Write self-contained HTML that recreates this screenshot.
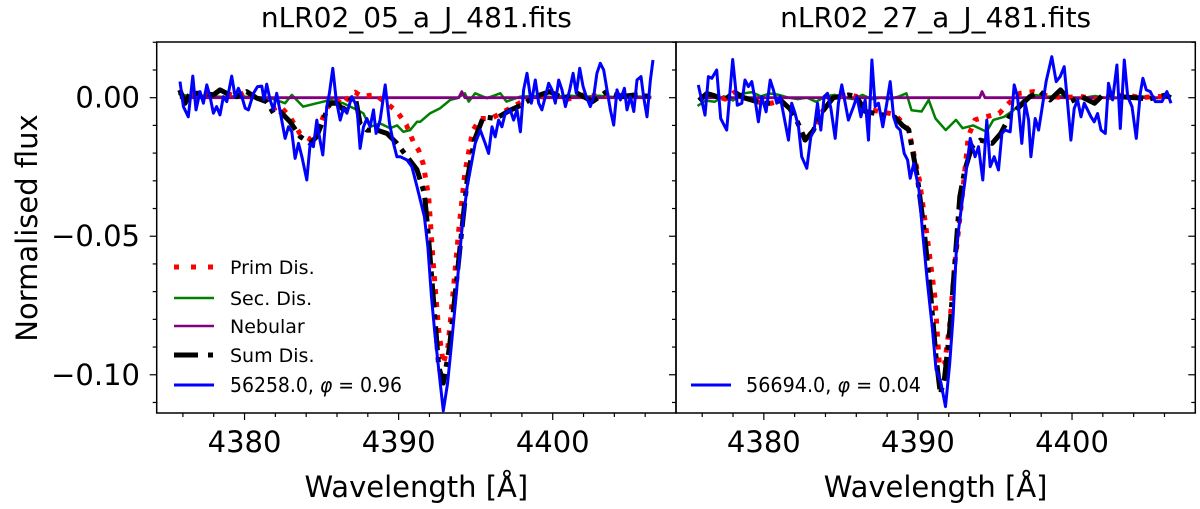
<!DOCTYPE html>
<html><head><meta charset="utf-8">
<style>
html,body{margin:0;padding:0;background:#fff;}
svg{display:block;}
text{font-family:"DejaVu Sans","Liberation Sans",sans-serif;fill:#000;}
</style></head>
<body>
<svg id="fig" width="1200" height="509" viewBox="0 0 1200 509" xmlns="http://www.w3.org/2000/svg"></svg>
<script>
// ---- Data ----
const xTicks = [4380, 4390, 4400];
const yTicks = [0, -0.05, -0.10];
const yTickLabels = ["0.00", "\u22120.05", "\u22120.10"];
const panelTitles = ["nLR02_05_a_J_481.fits", "nLR02_27_a_J_481.fits"];
const obsLabels = ["56258.0, ", "56694.0, "];
const obsPhases = ["0.96", "0.04"];

// Left panel (values in units of 1e-3)
const L_obsW = [4375.81,4376.03,4376.35,4376.64,4376.85,4377.11,4377.33,4377.55,4377.76,4377.98,4378.19,4378.41,4378.63,4378.85,4379.17,4379.39,4379.60,4379.82,4380.04,4380.25,4380.58,4380.84,4381.12,4381.27,4381.44,4381.66,4381.88,4382.09,4382.31,4382.63,4382.85,4383.07,4383.28,4383.50,4383.72,4384.04,4384.26,4384.47,4384.69,4384.86,4385.08,4385.34,4385.51,4385.73,4385.95,4386.21,4386.42,4386.64,4386.96,4387.29,4387.50,4387.72,4387.94,4388.15,4388.37,4388.54,4388.80,4389.13,4389.41,4389.67,4389.89,4390.10,4390.54,4390.86,4391.19,4391.67,4391.90,4392.13,4392.37,4392.60,4392.90,4393.18,4393.41,4393.76,4394.10,4394.45,4394.97,4395.30,4395.62,4395.84,4396.06,4396.27,4396.49,4396.70,4396.92,4397.25,4397.46,4397.68,4397.90,4398.11,4398.33,4398.61,4398.87,4399.09,4399.30,4399.52,4399.74,4399.95,4400.17,4400.39,4400.60,4400.82,4401.10,4401.32,4401.53,4401.75,4401.97,4402.18,4402.44,4402.66,4402.87,4403.09,4403.31,4403.52,4403.74,4403.96,4404.17,4404.39,4404.65,4404.82,4405.04,4405.26,4405.47,4405.73,4405.90,4406.12,4406.34,4406.51];
const L_obsF = [5.8,-3.2,-6.9,7.8,-4.4,2.2,-2.0,4.6,0.4,-5.6,-3.2,-6.2,0.4,-1.4,7.8,0.4,3.4,0.4,-3.8,-4.4,1.6,4.0,4.2,-0.8,4.9,-0.8,-4.4,1.6,-5.0,-14.7,-10.5,-12.3,-21.9,-16.5,-21.3,-29.7,-16.5,-17.7,-8.1,-14.1,-20.7,-3.2,1.6,10.6,-0.8,-8.1,-3.8,-5.6,0.4,-3.2,-18.3,-10.5,-7.5,-10.5,-4.4,-12.9,-8.1,4.6,-9.3,-16.5,-21.3,-21.3,-22.5,-24.9,-32.1,-43,-54,-72,-86,-98,-113,-103,-90,-69.5,-48,-32,-16.5,-11.7,-16.5,-20.1,-10.5,-14.1,-8.1,-10.5,-5.6,-4.4,-8.1,-4.4,-12.3,2.8,8.8,-2.0,6.4,-2.0,-4.4,0.4,5.2,2.8,-2.0,6.4,2.8,-3.2,2.8,8.8,1.6,10.6,4.0,0.4,-3.2,0.4,8.8,12.4,10.0,2.8,-4.4,-9.9,2.8,-0.8,3.4,-4.4,0.4,-5.0,6.4,7.6,0.4,-6.9,6.4,13.6];
const L_sumW = [4375.8,4376.14,4376.46,4376.9,4377.33,4377.98,4378.41,4378.85,4379.5,4380.14,4380.8,4381.44,4381.88,4382.31,4382.96,4383.6,4384.26,4384.69,4385.1,4385.56,4386.0,4386.42,4386.86,4387.18,4387.5,4387.94,4388.59,4389.24,4389.89,4390.54,4391.19,4391.67,4391.9,4392.25,4392.6,4392.9,4393.3,4393.76,4394.1,4394.45,4394.92,4395.5,4396.3,4397.24,4397.94,4398.86,4399.8,4400.7,4401.6,4402.58,4403.5,4404.43,4405.36,4406.4];
const L_sumF = [2.8,-2,1.6,1.6,1.6,1,2.8,1.6,0.4,2.2,-0.2,-1.4,-5.6,-5,-8.7,-14,-16.5,-14,-8,-2,-2,-4.4,-0.8,0.4,-9.3,-11.7,-11.7,-12.9,-16.5,-21.3,-26,-34.6,-47.8,-72,-97,-103,-90,-66,-47.8,-29.7,-15.3,-6.9,-7.5,-4.5,-2.7,0.4,2.2,-0.2,1.6,-1.4,2.2,0.4,1,0.4];
const L_primW = [4375.8,4376.14,4376.46,4376.9,4377.33,4377.98,4378.41,4378.85,4379.5,4380.14,4380.8,4381.44,4381.88,4382.31,4382.96,4383.6,4384.26,4384.69,4385.1,4385.56,4386.0,4386.42,4386.86,4387.18,4387.6,4388.5,4389.2,4389.9,4390.5,4391.0,4391.3,4391.6,4391.95,4392.25,4392.6,4392.9,4393.2,4393.5,4393.9,4394.3,4394.8,4395.3,4396.0,4397.0,4398.0,4399.0,4400.0,4401.0,4402.0,4403.0,4404.0,4405.0,4406.4];
const L_primF = [2.8,-2,1.6,1.6,1.6,1,2.8,1.6,0.4,2.2,-0.2,-1.4,-4,-3,-7,-13,-15,-13,-7,-1.5,-1,-2.5,1,2,0.5,1,-2,-5,-9.8,-16.5,-19,-24,-36,-60,-84,-96,-90,-72,-48,-27,-12,-7.5,-7.5,-4.5,-1.5,0,1,-0.5,1,0.5,1,0.5,0.5];
const L_secW = [4375.7,4376.5,4377.5,4378.5,4379.5,4380.5,4381.6,4382.63,4383.07,4383.8,4384.7,4385.6,4386.4,4387.3,4387.7,4388.15,4388.8,4389.45,4389.9,4390.3,4390.75,4391.19,4391.4,4392.05,4392.7,4393.35,4393.8,4394.3,4394.55,4394.97,4395.73,4396.6,4397.0,4397.9,4399,4400,4401,4402,4403,4404,4405,4406.4];
const L_secF = [1.4,0.5,0.8,0.3,0.5,0.2,0,-2,1,-3.2,-2,-0.8,-2,-4.4,-5.6,-10.5,-9.3,-11,-10,-12.3,-11.7,-8.7,-8.7,-5.6,-3.8,-0.8,-0.2,1.6,-1.4,1.6,-0.2,1.6,-1.4,0.4,0.6,0.2,0.8,0.3,0.7,0.2,0.5,0.3];
const L_nebW = [4375.8,4393.9,4394.1,4394.3,4406.4];
const L_nebF = [0,0,2.2,0,0];

// Right panel
const R_obsW = [4375.75,4376.18,4376.40,4376.62,4376.94,4377.20,4377.59,4377.98,4378.28,4378.57,4378.78,4379.00,4379.22,4379.43,4379.65,4379.86,4380.15,4380.41,4380.62,4380.84,4381.06,4381.27,4381.60,4381.81,4382.03,4382.25,4382.46,4382.79,4383.05,4383.26,4383.48,4383.70,4383.91,4384.13,4384.35,4384.63,4384.84,4385.06,4385.28,4385.49,4385.82,4386.04,4386.30,4386.58,4386.79,4387.01,4387.23,4387.44,4387.72,4387.98,4388.20,4388.42,4388.63,4388.85,4389.11,4389.33,4389.50,4389.73,4390.07,4390.29,4390.62,4390.95,4391.17,4391.50,4391.79,4392.06,4392.28,4392.50,4392.83,4393.06,4393.39,4393.71,4393.93,4394.21,4394.47,4394.69,4394.95,4395.23,4395.45,4395.66,4395.99,4396.25,4396.46,4396.74,4396.96,4397.18,4397.33,4397.61,4397.83,4398.04,4398.32,4398.69,4398.97,4399.23,4399.49,4399.71,4399.93,4400.14,4400.36,4400.58,4400.79,4401.01,4401.23,4401.44,4401.66,4401.88,4402.16,4402.37,4402.63,4402.91,4403.13,4403.39,4403.61,4403.89,4404.17,4404.43,4404.60,4404.82,4405.08,4405.40,4405.84,4406.16,4406.42];
const R_obsF = [4.6,-6.3,7.6,7.0,10.0,-7.5,-11.7,13.8,-2.7,-2.0,6.4,4.0,5.8,-0.8,-8.7,0.4,-5.1,6.4,2.8,-2.0,0.4,-5.7,-15.3,-2.0,-5.7,-10.5,-21.3,-25.5,-14.1,-11.7,-2.0,-11.7,0.4,1.6,-3.9,-14.7,-2.0,4.6,-2.0,-8.1,-3.2,0.4,-6.9,-0.8,-15.3,13.6,-3.2,-2.0,-10.5,-2.0,5.8,-6.9,-10.5,-11.7,-20.1,-22.5,-29.1,-23.7,-33.3,-47.8,-67,-84,-98,-103,-111.5,-96,-79,-53.8,-39.3,-29.7,-14.7,-21.3,-17.7,-29.7,-8.1,-24.9,-21.3,-26.1,-12.9,-11.7,-12.3,4.6,0.4,-16.5,-2.0,-8.1,-21.3,-7.5,-11.7,-4.4,5.8,14.8,5.8,7.6,11.2,-2.0,-15.3,-3.9,-0.8,-6.9,-2.0,-4.4,-6.9,-8.7,-5.7,-11.7,-12.9,5.2,-0.8,11.8,-11.1,13.6,0.4,-3.2,-14.7,1.6,7.0,2.8,2.2,-1.4,-1.4,2.2,-2.0];
const R_sumW = [4375.8,4376.3,4376.9,4377.5,4378.1,4378.7,4379.3,4379.9,4380.5,4381.1,4381.7,4382.2,4382.68,4383.2,4383.8,4384.5,4385.5,4386.0,4386.6,4387.5,4388.5,4389.0,4389.4,4389.96,4390.4,4390.84,4391.17,4391.46,4391.73,4392.06,4392.39,4392.72,4393.05,4393.5,4394.05,4394.82,4395.38,4395.93,4396.6,4397.26,4397.92,4398.58,4399.25,4399.9,4400.58,4401.46,4402.12,4402.8,4404.1,4404.99,4406.1,4406.4];
const R_sumF = [-1,1.5,0.5,-0.5,2,0,-1,-2,-2,-1,-4,-9,-15.3,-12,-5,0,1,0.5,-5,-6,-7,-10,-11.6,-28.5,-47.8,-72,-93.5,-107,-101,-84,-60,-35.7,-26,-17.7,-15.3,-16.5,-12.9,-6.9,-3.2,0.4,2.2,-0.8,2.8,-1.4,0.4,-2.0,1.6,0.5,0,-0.5,1.0,0];
const R_primW = [4375.8,4376.3,4376.9,4377.5,4378.1,4378.7,4379.3,4379.9,4380.5,4381.1,4381.7,4382.2,4382.68,4383.2,4383.8,4384.5,4385.5,4386.0,4386.6,4387.5,4388.5,4389.0,4389.4,4390.1,4390.55,4391.1,4391.4,4391.73,4392.06,4392.39,4392.83,4393.27,4393.7,4394.4,4395.27,4395.9,4396.6,4397.5,4398.5,4399.5,4400.5,4401.5,4402.5,4403.5,4404.5,4405.5,4406.4];
const R_primF = [-1,1.5,0.5,-0.5,2,0,-1,-2,-2,-1,-4,-9,-15,-12,-5,0,1,0.5,-4,-5,-6,-9,-11.6,-30,-48,-72,-97,-96,-82,-60,-38,-14,-8,-6.9,-5.7,-2.0,1.6,2.2,0.5,0,0.5,-0.5,0.5,1,0,0.5,0];
const R_secW = [4375.7,4376.2,4376.8,4377.4,4378.0,4378.6,4379.2,4379.8,4380.4,4381.0,4381.6,4382.2,4382.8,4383.4,4384.0,4384.6,4385.2,4385.8,4386.4,4387.0,4387.6,4388.2,4388.8,4389.25,4389.58,4390.24,4390.7,4391.14,4391.8,4392.47,4392.9,4393.58,4394.45,4394.9,4395.6,4396.2,4396.87,4397.5,4398.4,4399.5,4400.5,4401.5,4402.5,4403.5,4404.5,4405.5,4406.4];
const R_secF = [-3,-1,-1.5,0.5,-1,1.5,2,0.5,1.5,1,0,-0.5,0,-1.5,0.5,1,0,-0.5,1,-0.5,0,-0.5,0.5,1.6,-4.5,-5,-0.8,-7.5,-11.7,-8,-11,-10,-12.3,-8,-6.9,-4.5,-0.8,1,0.4,0.5,-0.3,0.6,-0.4,0.3,0.5,-0.2,0.2];
const R_nebW = [4375.8,4394.0,4394.16,4394.35,4406.4];
const R_nebF = [0,0,2.2,0,0];

// ---- Layout ----
const NS = "http://www.w3.org/2000/svg";
const svg = document.getElementById("fig");
const X0 = 4374.3, X1 = 4408.0, Y0 = -0.1138, Y1 = 0.0201;
const panels = [{l:156.7, r:676}, {l:676, r:1195.3}];
const axTop = 42, axBot = 413;
function mk(tag, attrs, parent){const e=document.createElementNS(NS,tag);for(const k in attrs)e.setAttribute(k,attrs[k]);(parent||svg).appendChild(e);return e;}
function sx(p, w){return p.l + (w - X0)/(X1 - X0)*(p.r - p.l);}
function sy(v){return axTop + (Y1 - v)/(Y1 - Y0)*(axBot - axTop);}

const series = [
 [
  {w:L_secW,f:L_secF,color:"#008000",width:2.5,dash:null,name:"sec-dis-line-left"},
  {w:L_nebW,f:L_nebF,color:"#800080",width:2.8,dash:null,name:"nebular-line-left"},
  {w:L_primW,f:L_primF,color:"#ff0000",width:5,dash:"5,8",name:"prim-dis-line-left"},
  {w:L_sumW,f:L_sumF,color:"#000000",width:5,dash:"24,7,5,7",name:"sum-dis-line-left"},
  {w:L_obsW,f:L_obsF,color:"#0000ff",width:3,dash:null,name:"observed-spectrum-left"}
 ],
 [
  {w:R_secW,f:R_secF,color:"#008000",width:2.5,dash:null,name:"sec-dis-line-right"},
  {w:R_nebW,f:R_nebF,color:"#800080",width:2.8,dash:null,name:"nebular-line-right"},
  {w:R_primW,f:R_primF,color:"#ff0000",width:5,dash:"5,8",name:"prim-dis-line-right"},
  {w:R_sumW,f:R_sumF,color:"#000000",width:5,dash:"24,7,5,7",name:"sum-dis-line-right"},
  {w:R_obsW,f:R_obsF,color:"#0000ff",width:3,dash:null,name:"observed-spectrum-right"}
 ]
];

panels.forEach((p, pi) => {
  const g = mk("g", {});
  
  
  const cid = "clip"+pi;
  const cp = mk("clipPath", {id:cid}, g);
  mk("rect", {x:p.l, y:axTop, width:p.r-p.l, height:axBot-axTop}, cp);
  const lg = mk("g", {"clip-path":"url(#"+cid+")"}, g);
  series[pi].forEach(s => {
    const d = s.w.map((w,i)=>(i?"L":"M")+sx(p,w).toFixed(1)+","+sy(s.f[i]/1000).toFixed(1)).join("");
    const a = {d:d, fill:"none", stroke:s.color, "stroke-width":s.width, "stroke-linejoin":"round"};
    if (s.dash) a["stroke-dasharray"] = s.dash;
    const path = mk("path", a, lg);
    
    
  });
  const fr = mk("rect", {x:p.l, y:axTop, width:p.r-p.l, height:axBot-axTop, fill:"none", stroke:"#000", "stroke-width":1.5}, g);
  
  
  for (let w = 4376; w <= 4406; w += 2) {
    const x = sx(p, w); const major = xTicks.includes(w);
    mk("line", {x1:x, x2:x, y1:axBot, y2:axBot+(major?7:4), stroke:"#000", "stroke-width":1.2}, g);
  }
  xTicks.forEach(t => {
    const tx = mk("text", {x:sx(p,t), y:452, "font-size":29, "text-anchor":"middle"}, g);
    tx.textContent = t;
    
    
  });
  for (let k = 2; k >= -11; k--) {
    const y = sy(k/100); const len = (k % 5 === 0) ? 7 : 4;
    mk("line", {x1:p.l-len, x2:p.l, y1:y, y2:y, stroke:"#000", "stroke-width":1.2}, g);
  }
  const ti = mk("text", {x:(p.l+p.r)/2, y:27, "font-size":28, "text-anchor":"middle"}, g);
  ti.textContent = panelTitles[pi];
  
  
  const xl = mk("text", {x:(p.l+p.r)/2, y:497, "font-size":29, "text-anchor":"middle"}, g);
  xl.textContent = "Wavelength [\u00c5]";
  
  
});
for (let k = 2; k >= -11; k--) {
  const y = sy(k/100); const len = (k%5===0)?7:4;
  mk("line", {x1:panels[1].r-len, x2:panels[1].r, y1:y, y2:y, stroke:"#000", "stroke-width":1.2});
}
yTicks.forEach((t,i) => {
  const ty = mk("text", {x:140, y:sy(t)+10, "font-size":29, "text-anchor":"end"});
  ty.textContent = yTickLabels[i];
  
  
});
const yl = mk("text", {x:0, y:0, "font-size":29, "text-anchor":"middle", transform:"translate(37,228) rotate(-90)"});
yl.textContent = "Normalised flux";



function obsText(parent, x, y, i, len){
  const t = mk("text", {x:x, y:y, "font-size":20, textLength:len, lengthAdjust:"spacingAndGlyphs"}, parent);
  
  
  const a = mk("tspan", {}, t); a.textContent = obsLabels[i];
  const b = mk("tspan", {"font-style":"italic"}, t); b.textContent = "\u03c6";
  const c = mk("tspan", {}, t); c.textContent = " = " + obsPhases[i];
  return t;
}

const legItems = [
  {label:"Prim Dis.", color:"#ff0000", width:5, dash:"5,12"},
  {label:"Sec. Dis.", color:"#008000", width:2.5, dash:null},
  {label:"Nebular", color:"#800080", width:2.5, dash:null},
  {label:"Sum Dis.", color:"#000000", width:5, dash:"24,10,5,10"},
  {label:null, color:"#0000ff", width:3, dash:null}
];
const legRows = [267, 298, 326, 355, 385];
const lg1 = mk("g", {});


legItems.forEach((it, i) => {
  const y = legRows[i];
  const a = {x1:174, x2:214, y1:y, y2:y, stroke:it.color, "stroke-width":it.width};
  if (it.dash) a["stroke-dasharray"] = it.dash;
  mk("line", a, lg1);
  if (it.label) {
    const t = mk("text", {x:230, y:y+7, "font-size":19}, lg1);
    t.textContent = it.label;
    
    
  } else {
    obsText(lg1, 230, y+7, 0, 172);
  }
});
const lg2 = mk("g", {});


mk("line", {x1:691, x2:731, y1:385, y2:385, stroke:"#0000ff", "stroke-width":3}, lg2);
obsText(lg2, 746, 392, 1, 175);
</script>
</body></html>
